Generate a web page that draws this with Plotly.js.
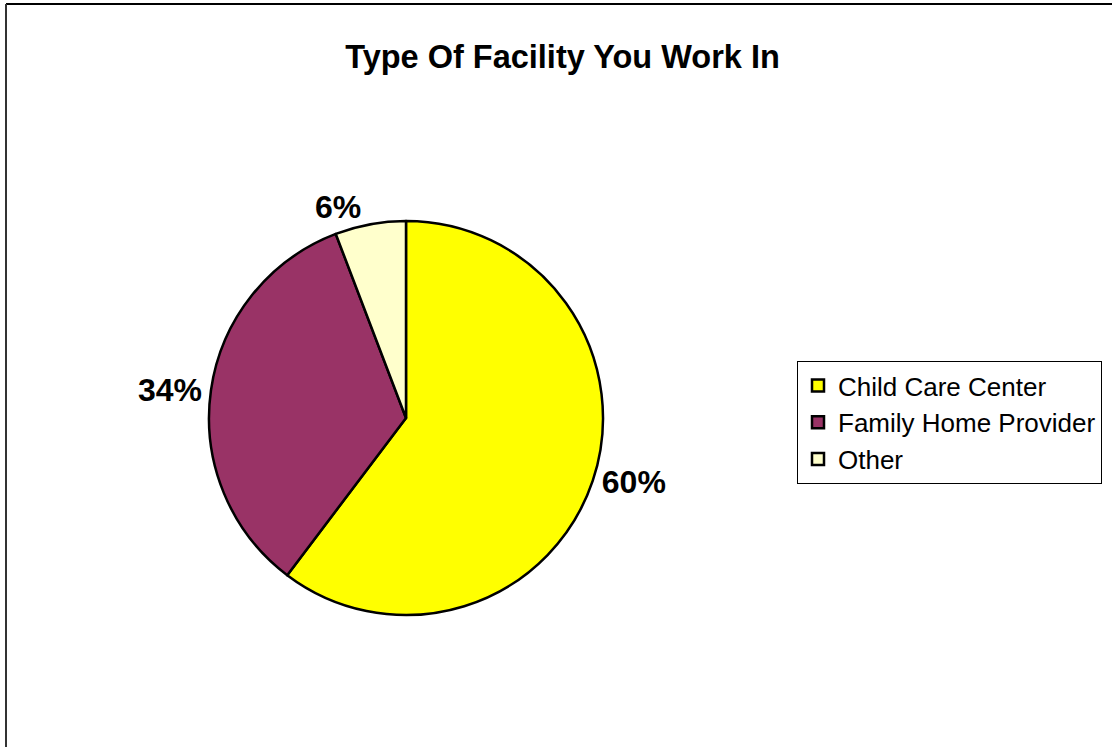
<!DOCTYPE html>
<html>
<head>
<meta charset="utf-8">
<script src="https://cdn.plot.ly/plotly-3.0.1.min.js"></script>
<style>html,body{margin:0;padding:0;background:#fff;}#chart{width:1112px;height:747px;}</style>
</head>
<body>
<div id="chart"></div>
<script>
const categories = ["Child Care Center", "Family Home Provider", "Other"];
const shares = [60.3, 33.9, 5.8];
const sliceColors = ["#FFFF00", "#993366", "#FFFFCC"];
const chartTitle = "Type Of Facility You Work In";

const W = 1112, H = 747;
const font = "Arial, 'Liberation Sans', sans-serif";

const trace = {
  type: "pie",
  labels: categories,
  values: shares,
  sort: false,
  direction: "clockwise",
  rotation: 0,
  marker: {colors: sliceColors, line: {color: "#000", width: 2.5}},
  textposition: "outside",
  texttemplate: "%{percent:.0%}",
  textfont: {family: font, size: 32, color: "#000", weight: "bold"},
  hoverinfo: "label+percent",
  domain: {x: [209/W, 603/W], y: [1-615/H, 1-221/H]},
  automargin: false
};

const layout = {
  width: W, height: H,
  margin: {l: 0, r: 0, t: 0, b: 0},
  paper_bgcolor: "#fff",
  title: {
    text: "<b>" + chartTitle + "</b>",
    font: {family: font, size: 32.5, color: "#000"},
    x: 562.5/W, xanchor: "center", xref: "paper",
    y: 1-57/H, yanchor: "middle", yref: "paper"
  },
  showlegend: true,
  legend: {
    x: 797/W, xanchor: "left", y: 1-361/H, yanchor: "top",
    bgcolor: "#fff", bordercolor: "#000", borderwidth: 1,
    font: {family: font, size: 26, color: "#000"}
  },
  shapes: [
    {type: "line", xref: "paper", yref: "paper", x0: 6/W, x1: 1, y0: 1-4/H, y1: 1-4/H, line: {color: "#000", width: 2}},
    {type: "line", xref: "paper", yref: "paper", x0: 6/W, x1: 6/W, y0: 1-4/H, y1: 0, line: {color: "#333", width: 2}}
  ]
};

Plotly.newPlot("chart", [trace], layout, {displayModeBar: false, staticPlot: true});
</script>
</body>
</html>
